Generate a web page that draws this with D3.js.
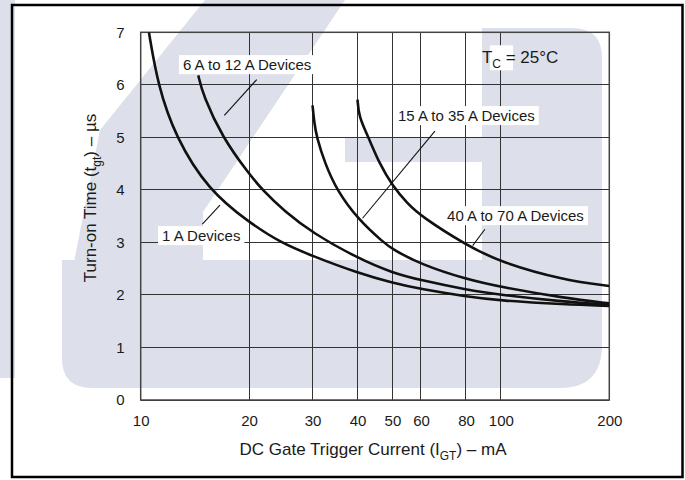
<!DOCTYPE html>
<html><head><meta charset="utf-8">
<script src="https://cdn.jsdelivr.net/npm/d3@7"></script>
<style>
body{margin:0;background:#fff}
svg{display:block}
text{font-family:"Liberation Sans",Arial,Helvetica,sans-serif;fill:#1a1a1a}
</style>
</head><body><svg id="c" width="685" height="480"></svg>
<script>
// ---- data (x: DC gate trigger current in mA, y: turn-on time in µs) ----
const xTicks = [10, 20, 30, 40, 50, 60, 80, 100, 200];
const yTicks = [0, 1, 2, 3, 4, 5, 6, 7];
const seriesNames = ["1 A Devices", "6 A to 12 A Devices", "15 A to 35 A Devices", "40 A to 70 A Devices"];
const curve1A = [[10.54,7.0],[11.15,6.0],[12.5,5.0],[15.4,4.0],[20,3.38],[24.4,3.0],[30,2.74],[40,2.42],[50,2.23],[60,2.11],[80,1.97],[100,1.89],[150,1.82],[200,1.79]];
const curve6to12A = [[14.45,6.18],[14.9,5.8],[16.85,5.0],[20,4.3],[21.9,3.98],[25,3.6],[30,3.18],[40,2.70],[50,2.42],[60,2.28],[80,2.10],[100,2.0],[150,1.87],[200,1.81]];
const curve15to35A = [[30,5.61],[30.3,5.3],[30.8,5.0],[32.5,4.5],[35,4.0],[40,3.45],[47.2,3.0],[50,2.87],[60,2.58],[80,2.30],[100,2.15],[150,1.94],[200,1.84]];
const curve40to70A = [[40,5.72],[40.3,5.4],[42.9,5.0],[46,4.5],[50,4.08],[55,3.74],[60,3.50],[80,2.95],[100,2.62],[150,2.28],[200,2.17]];
// annotation anchors (data units)
const labelAt = [[11.46,3.025],[13.1,6.28],[51.8,5.31],[70.9,3.405]];
const leaderFrom = [[16.6,3.71],[21.0,6.10],[65.6,5.12],[90.3,3.25]];
const leaderTo = [[14.83,3.35],[17.07,5.42],[41.3,3.46],[83.5,2.94]];
const tempLabelAt = [88.6, 6.41];

const svg = d3.select("#c");
const m = {l:140.7, r:609.3, t:32.3, b:400};
const x = d3.scaleLog().domain([10,200]).range([m.l, m.r]);
const y = d3.scaleLinear().domain([0,7]).range([m.b, m.t]);

// ---- faint background watermark ----
const wm = svg.append("g").attr("fill", "#dde0ea");
wm.append("path").attr("d", "M0,0H15V378H0Z");
wm.append("path").attr("d", "M205,0L345,0L203,212L203,262L74,262L100,130Z");
wm.append("path").attr("d", "M62,260H602V345Q602,388 560,388H92Q62,388 62,358Z");
wm.append("path").attr("d", "M482,28H572Q602,28 602,58V300H482Z");
wm.append("path").attr("d", "M345,137H482V162H345Z");

// ---- grid ----
const grid = svg.append("g").attr("stroke", "#333").attr("stroke-width", 1).attr("shape-rendering","crispEdges");
grid.selectAll("line.v").data(xTicks).join("line").attr("class","v")
  .attr("x1", d => x(d)).attr("x2", d => x(d)).attr("y1", y(0)).attr("y2", y(7));
grid.selectAll("line.h").data(yTicks).join("line").attr("class","h")
  .attr("y1", d => y(d)).attr("y2", d => y(d)).attr("x1", x(10)).attr("x2", x(200));
svg.append("rect").attr("x", x(10)).attr("y", y(7)).attr("width", x(200)-x(10)).attr("height", y(0)-y(7))
  .attr("fill","none").attr("stroke","#444").attr("stroke-width",1.5);

// ---- axes labels ----
const xa = svg.append("g").attr("transform", `translate(0,${y(0)})`)
  .call(d3.axisBottom(x).tickValues(xTicks).tickSize(0).tickPadding(15).tickFormat(d3.format("d")));
xa.select(".domain").remove();
xa.selectAll("text").attr("font-size", 15).style("fill","#1a1a1a");
const ya = svg.append("g").attr("transform", `translate(${x(10)},0)`)
  .call(d3.axisLeft(y).tickValues(yTicks).tickSize(0).tickPadding(16).tickFormat(d3.format("d")));
ya.select(".domain").remove();
ya.selectAll("text").attr("font-size", 15).style("fill","#1a1a1a");
xa.attr("font-family", null); ya.attr("font-family", null);

// axis titles
const xt = svg.append("text").attr("x", 373).attr("y", 455).attr("text-anchor","middle").attr("font-size",17);
xt.append("tspan").text("DC Gate Trigger Current (I");
xt.append("tspan").attr("font-size",12).attr("dy",5).text("GT");
xt.append("tspan").attr("dy",-5).text(") – mA");
const yt = svg.append("text").attr("transform","translate(96,198) rotate(-90)").attr("text-anchor","middle").attr("font-size",17);
yt.append("tspan").text("Turn-on Time (t");
yt.append("tspan").attr("font-size",12).attr("dy",5).text("gt");
yt.append("tspan").attr("dy",-5).text(") – µs");

// ---- labels with white backgrounds ----
const labG = svg.append("g");
seriesNames.forEach((name, i) => {
  const t = labG.append("text").attr("x", x(labelAt[i][0])).attr("y", y(labelAt[i][1])).attr("font-size",15).text(name);
  const bb = t.node().getBBox();
  labG.insert("rect", () => t.node()).attr("x", bb.x-4).attr("y", bb.y-1).attr("width", bb.width+8).attr("height", bb.height+2).attr("fill","#fff");
});
// temperature note
const tx = x(tempLabelAt[0]), ty = y(tempLabelAt[1]);
svg.append("rect").attr("x", tx+8).attr("y", ty-18).attr("width", 23).attr("height", 25).attr("fill","#fff");
const tl = svg.append("text").attr("x", tx).attr("y", ty).attr("font-size",17);
tl.append("tspan").text("T");
tl.append("tspan").attr("font-size",12).attr("dy",5).text("C");
tl.append("tspan").attr("dy",-5).text(" = 25°C");

// ---- curves ----
const line = d3.line().x(d => x(d[0])).y(d => y(d[1])).curve(d3.curveBasis);
svg.append("defs").append("clipPath").attr("id","clip").append("rect")
  .attr("x", x(10)).attr("y", y(7)).attr("width", x(200)-x(10)).attr("height", y(0)-y(7));
svg.append("g").attr("clip-path","url(#clip)").selectAll("path")
  .data([curve1A, curve6to12A, curve15to35A, curve40to70A]).join("path")
  .attr("d", line).attr("fill","none").attr("stroke","#111").attr("stroke-width",2.6).attr("stroke-linecap","butt");

// leader lines
svg.append("g").selectAll("line").data(leaderFrom).join("line")
  .attr("x1", d => x(d[0])).attr("y1", d => y(d[1]))
  .attr("x2", (d,i) => x(leaderTo[i][0])).attr("y2", (d,i) => y(leaderTo[i][1]))
  .attr("stroke","#111").attr("stroke-width",1.1);

// outer border
svg.append("rect").attr("x",12).attr("y",5).attr("width",670.5).attr("height",472)
  .attr("fill","none").attr("stroke","#000").attr("stroke-width",2.5);
</script>
</body></html>
